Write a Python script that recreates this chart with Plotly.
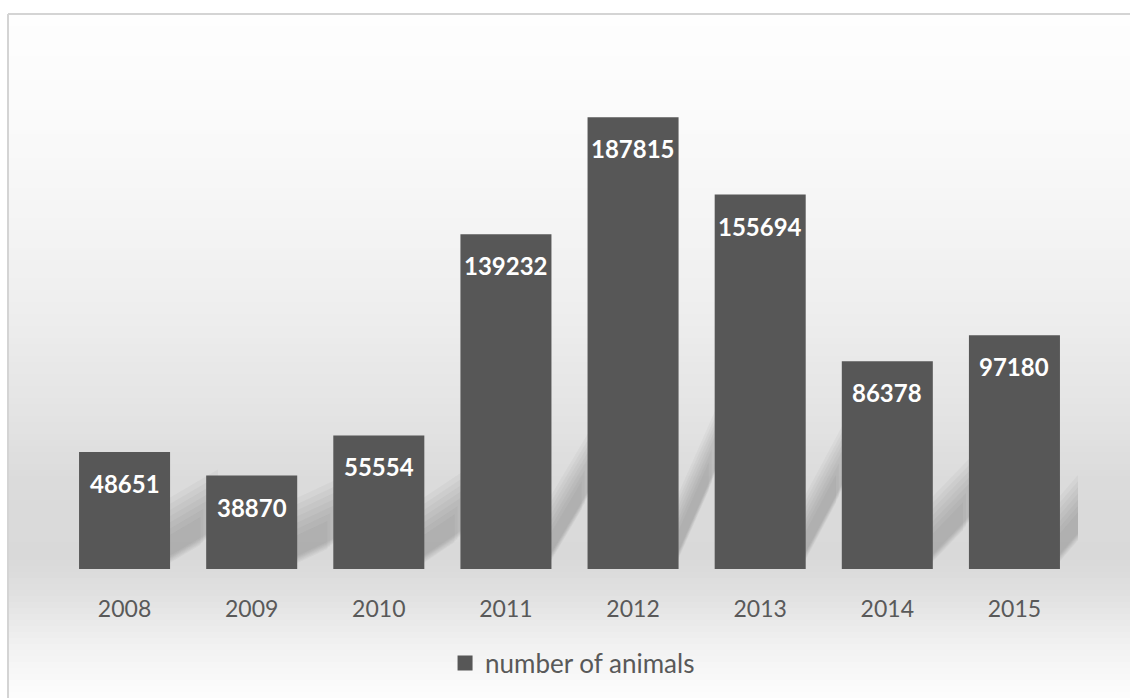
import plotly.graph_objects as go

# ---- data ----
years = ["2008", "2009", "2010", "2011", "2012", "2013", "2014", "2015"]
animals = [48651, 38870, 55554, 139232, 187815, 155694, 86378, 97180]
series_name = "number of animals"

# ---- layout constants ----
W, H = 1130, 698
ML, MR, MT, MB = 61, 52, 88, 129
PW, PH = W - ML - MR, H - MT - MB
YMAX = 200000
BARGAP = 0.284
BAR_COLOR = "#575757"
TEXT_GRAY = "#595959"
FONT = "Lato"

px_per_unit = PH / YMAX
px_per_cat = PW / len(years)


def py_to_paper(py):
    return (H - MB - py) / PH


def px_to_paper(px):
    return (px - ML) / PW


shapes = []

# background vertical gradient (style only)
stops = [(14, 254), (150, 249), (300, 239), (420, 227), (480, 219),
         (560, 217), (600, 226), (640, 240), (698, 253)]


def gray_at(y):
    for (y0, g0), (y1, g1) in zip(stops[:-1], stops[1:]):
        if y0 <= y <= y1:
            t = (y - y0) / (y1 - y0)
            return g0 + (g1 - g0) * t
    return stops[-1][1]


step = 6
y = 14
while y < H:
    y2 = min(y + step, H)
    g = int(round(gray_at((y + y2) / 2)))
    shapes.append(dict(type="rect", xref="paper", yref="paper",
                       x0=px_to_paper(8), x1=px_to_paper(W + 2),
                       y0=py_to_paper(y2 + 0.5), y1=py_to_paper(y),
                       fillcolor=f"rgb({g},{g},{g})", line=dict(width=0),
                       layer="below"))
    y = y2

# border lines
shapes.append(dict(type="line", xref="paper", yref="paper",
                   x0=px_to_paper(8), x1=px_to_paper(W + 2),
                   y0=py_to_paper(14), y1=py_to_paper(14),
                   line=dict(color="#d4d4d4", width=2), layer="below"))
shapes.append(dict(type="line", xref="paper", yref="paper",
                   x0=px_to_paper(8), x1=px_to_paper(8),
                   y0=py_to_paper(14), y1=py_to_paper(H + 2),
                   line=dict(color="#d4d4d4", width=2), layer="below"))

# soft perspective shadows derived from bar heights
half = (1 - BARGAP) / 2
for i, v in enumerate(animals):
    h_px = v * px_per_unit
    x1 = i + half - 0.02
    for k in range(7):
        grow = 1.2 - 0.07 * k
        dx = 42 * grow / px_per_cat
        dy = 0.21 * h_px * grow / px_per_unit
        b = (12 - 1.2 * k) / px_per_unit
        T = (28 + 5 * (6 - k)) / px_per_unit
        path = (f"M {x1},{b} L {x1 + dx},{b + dy} "
                f"L {x1 + dx},{b + dy + T} L {x1},{b + T} Z")
        shapes.append(dict(type="path", xref="x", yref="y", path=path,
                           fillcolor="rgba(70,70,70,0.045)",
                           line=dict(width=0), layer="below"))

fig = go.Figure()
fig.add_trace(go.Bar(
    x=years, y=animals, name=series_name,
    marker=dict(color=BAR_COLOR, line=dict(width=0)),
    showlegend=False,
))
# legend entry with a larger square marker
fig.add_trace(go.Scatter(
    x=[None], y=[None], mode="markers", name=series_name,
    marker=dict(symbol="square", size=15, color=BAR_COLOR),
    showlegend=True,
))

annotations = []
for i, v in enumerate(animals):
    annotations.append(dict(
        x=i, y=v, xref="x", yref="y", text=f"<b>{v}</b>",
        showarrow=False, yanchor="top", yshift=-15,
        font=dict(family=FONT, size=24, color="white"),
    ))

fig.update_layout(
    width=W, height=H,
    margin=dict(l=ML, r=MR, t=MT, b=MB, pad=0),
    paper_bgcolor="white",
    plot_bgcolor="rgba(0,0,0,0)",
    bargap=BARGAP,
    shapes=shapes,
    annotations=annotations,
    showlegend=True,
    legend=dict(orientation="h", x=0.503, xanchor="center",
                y=py_to_paper(663), yanchor="middle",
                font=dict(family=FONT, size=26, color=TEXT_GRAY),
                bgcolor="rgba(0,0,0,0)"),
    xaxis=dict(type="category", range=[-0.5, len(years) - 0.5],
               showgrid=False, zeroline=False, showline=False,
               ticks="", ticklabelstandoff=24,
               tickfont=dict(family=FONT, size=23, color=TEXT_GRAY)),
    yaxis=dict(range=[0, YMAX], visible=False, showgrid=False,
               zeroline=False),
)

fig.write_html("out.html")
